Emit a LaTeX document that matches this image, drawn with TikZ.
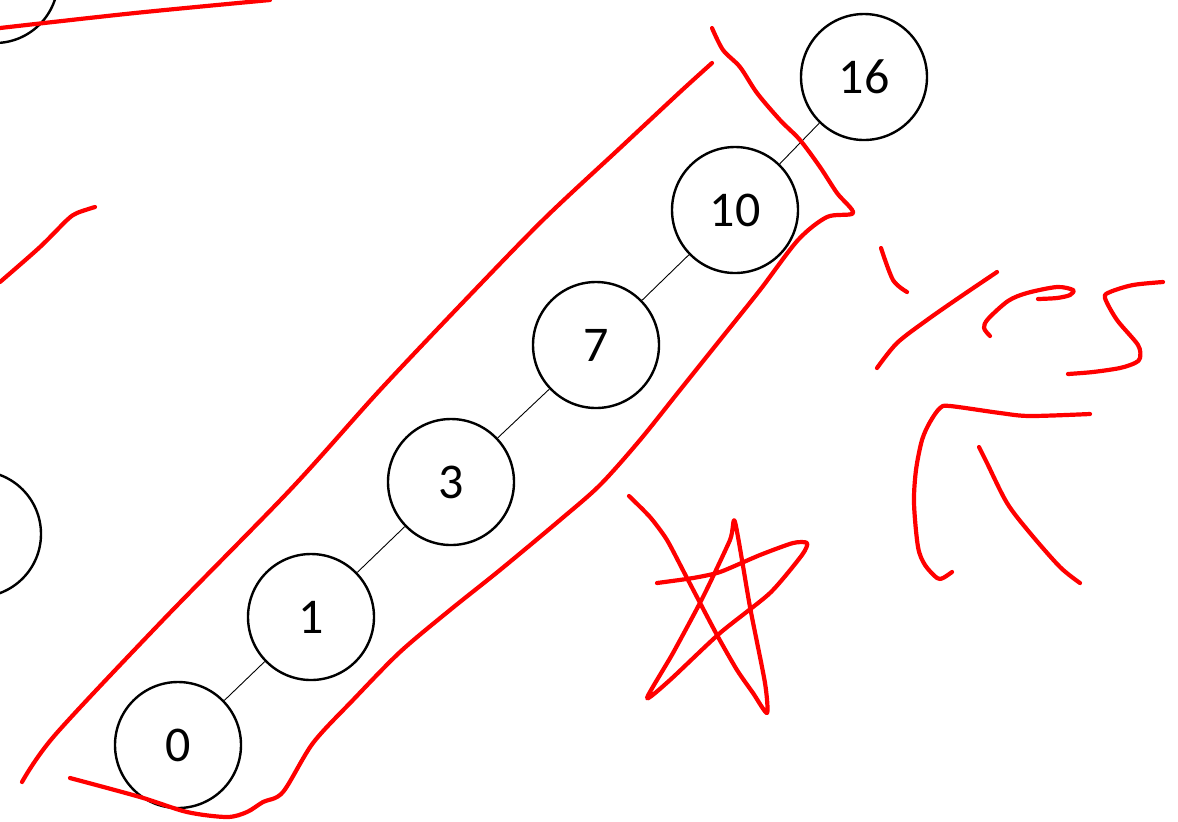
\documentclass[tikz,border=0pt]{standalone}
\usepackage{fontspec}
\setmainfont{Carlito}
\usetikzlibrary{positioning}

\tikzset{
  keynode/.style={draw, circle, line width=1.2pt, minimum size=63pt, inner sep=0pt,
    font=\fontsize{25}{29}\selectfont},
  link/.style={line width=0.45pt},
  ink/.style={red, line width=2.1pt, line cap=round, line join=round}
}

\begin{document}
\begin{tikzpicture}[x=0.5pt, y=-0.5pt]
  \useasboundingbox (0,0) rectangle (1178,821);
  \clip (0,0) rectangle (1178,821);

  % Chain of keys
  \node[keynode] (n0) at (178,745) {0};
  \node[keynode] (n1) at (311,617) {1};
  \node[keynode] (n3) at (451,482) {3};
  \node[keynode] (n7) at (596,345) {7};
  \node[keynode] (n10) at (735,210) {10};
  \node[keynode] (n16) at (864,77) {16};

  % Keys cut off at the border
  \node[keynode] (ntop) at (-5,-20) {};
  \node[keynode] (nleft) at (-22,534) {};

  \draw[link] (n0) -- (n1);
  \draw[link] (n1) -- (n3);
  \draw[link] (n3) -- (n7);
  \draw[link] (n7) -- (n10);
  \draw[link] (n10) -- (n16);

  % Red marks over the picture
  \draw[ink] plot[smooth, tension=0.5] coordinates {(0,28) (135,13) (270,0)};
  \draw[ink] plot[smooth, tension=0.5] coordinates {(0,282) (40,247) (67,220)
    (77,213) (95,207)};

  % Loop round the chain
  \draw[ink] plot[smooth, tension=0.5] coordinates {(22,782) (55,735) (163,620)
    (290,490) (380,390) (470,295) (545,218) (620,148) (680,92) (712,63)};
  \draw[ink] plot[smooth, tension=0.5] coordinates {(712,28) (723,50) (740,67)
    (757,93) (780,120) (800,140) (820,167) (837,193) (853,213) (827,217)
    (798,240) (760,290) (720,340) (680,390) (640,440) (600,485) (560,520)
    (500,570) (450,610) (400,652) (353,700) (313,743) (283,792) (263,802)
    (247,812) (227,817) (187,812) (140,797) (70,778)};

  % Handwriting
  \draw[ink] plot[smooth, tension=0.5] coordinates {(881,248) (893,280) (907,292)};
  \draw[ink] plot[smooth, tension=0.5] coordinates {(997,272) (960,297) (927,320)
    (897,343) (877,368)};
  \draw[ink] plot[smooth, tension=0.5] coordinates {(990,336) (984,328) (988,319)
    (1008,301) (1027,293) (1057,287) (1073,290) (1070,295) (1057,298) (1038,299)};
  \draw[ink] plot[smooth, tension=0.5] coordinates {(1163,282) (1133,285) (1110,292)
    (1105,298) (1117,320) (1138,345) (1140,358) (1135,363) (1120,368) (1093,372)
    (1068,374)};
  \draw[ink] plot[smooth, tension=0.5] coordinates {(1090,414) (1030,416) (1000,413)
    (950,406) (940,408) (930,422) (922,440) (916,470) (914,503) (918,547)
    (925,565) (937,578) (943,578) (952,572)};
  \draw[ink] plot[smooth, tension=0.5] coordinates {(979,447) (987,463) (1007,503)
    (1030,533) (1060,567) (1080,583)};

  % Star
  \draw[ink] plot[smooth, tension=0.4] coordinates {(629,496) (650,517) (667,540)
    (687,578) (717,635) (737,670) (753,693) (767,713) (765,683) (750,607)
    (735,522) (730,540) (703,597) (673,653) (647,698) (670,680) (720,633)
    (770,593) (802,555) (807,543) (793,543) (760,555) (720,572) (693,578)
    (657,583)};
\end{tikzpicture}
\end{document}
